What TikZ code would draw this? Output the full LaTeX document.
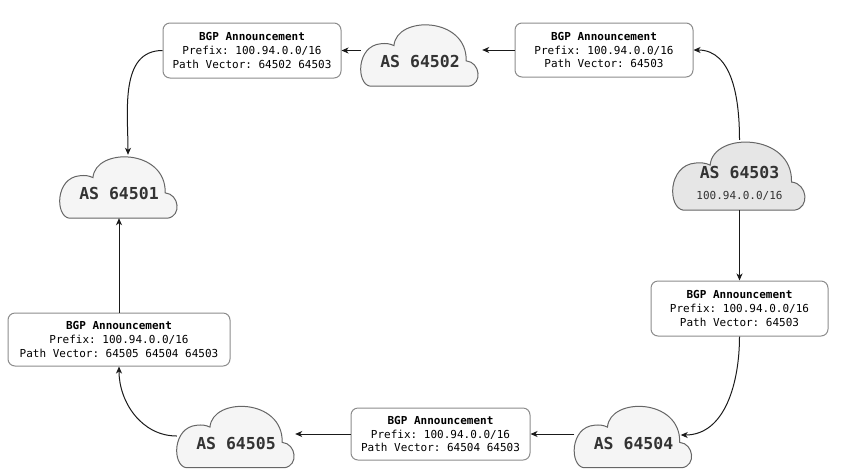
\documentclass[tikz,border=0pt]{standalone}
\usepackage{fontspec}
\setmonofont{DejaVu Sans Mono}
\usepackage{tikz}
\usetikzlibrary{arrows.meta,backgrounds,calc}
\definecolor{asfill}{HTML}{F5F5F5}
\definecolor{asfilldark}{HTML}{E6E6E6}
\definecolor{asline}{HTML}{666666}
\definecolor{astext}{HTML}{333333}
\definecolor{boxline}{HTML}{8C8C8C}
\definecolor{wireline}{HTML}{1A1A1A}

% point of a cloud, (0,0) = north west and (1,1) = south east of \p1--\p2
\newcommand\cpt[2]{({\x1+#1*(\x2-\x1)},{\y1+#2*(\y2-\y1)})}
\newcommand\cloudoutline{\cpt{0.08}{1} .. controls \cpt{-0.04}{0.97} and \cpt{-0.04}{0.36} .. \cpt{0.17}{0.33}
  .. controls \cpt{0.21}{0.32} and \cpt{0.25}{0.33} .. \cpt{0.28}{0.36}
  .. controls \cpt{0.3}{-0.12} and \cpt{0.9}{-0.1} .. \cpt{0.89}{0.6}
  .. controls \cpt{1.01}{0.62} and \cpt{1.03}{0.97} .. \cpt{0.91}{1} -- cycle}

\tikzset{
  ascloud/.style 2 args={minimum width=#1, minimum height=#2, inner sep=0pt,
    text=astext, font=\ttfamily\bfseries\fontsize{16.5}{20}\selectfont},
  onelabel/.style={text height=26pt, text depth=0pt},
  cloudline/.style={draw=asline, line width=1pt},
  asbox/.style={draw=boxline, line width=1pt, fill=white, rounded corners=7pt,
    align=center, inner sep=0pt, font=\ttfamily\fontsize{11}{13.8}\selectfont},
  announce/.style={draw=wireline, line width=1pt, -{Stealth[length=7pt,width=6pt,inset=2pt]}}
}

\begin{document}
\begin{tikzpicture}[x=1pt,y=-1pt]
\useasboundingbox (0,0) rectangle (851,475);

\node[ascloud={118pt}{63pt}, onelabel] (as1) at (119,186.5) {AS 64501};
\node[ascloud={118pt}{63pt}, onelabel] (as2) at (420,54.5) {AS 64502};
\node[ascloud={133pt}{70pt}, align=center, text height=48pt, text depth=0pt] (as3) at (739.5,175)
  {AS 64503\\[1pt]{\mdseries\fontsize{11}{13}\selectfont 100.94.0.0/16}};
\node[ascloud={118pt}{63pt}, onelabel] (as4) at (633.5,436) {AS 64504};
\node[ascloud={118pt}{63pt}, onelabel] (as5) at (236,436) {AS 64505};

\begin{pgfonlayer}{background}
\foreach \c/\f in {as1/asfill,as2/asfill,as3/asfilldark,as4/asfill,as5/asfill}
  \draw[cloudline, fill=\f] let \p1=(\c.north west), \p2=(\c.south east) in \cloudoutline;
\end{pgfonlayer}

\node[asbox, minimum width=178pt, minimum height=55pt] (ann1) at (252,50.5)
  {\textbf{BGP Announcement}\\Prefix: 100.94.0.0/16\\Path Vector: 64502 64503};
\node[asbox, minimum width=178pt, minimum height=54pt] (ann2) at (604,50)
  {\textbf{BGP Announcement}\\Prefix: 100.94.0.0/16\\Path Vector: 64503};
\node[asbox, minimum width=177pt, minimum height=55pt] (ann3) at (739.5,308.5)
  {\textbf{BGP Announcement}\\Prefix: 100.94.0.0/16\\Path Vector: 64503};
\node[asbox, minimum width=179pt, minimum height=52pt] (ann4) at (440.5,434)
  {\textbf{BGP Announcement}\\Prefix: 100.94.0.0/16\\Path Vector: 64504 64503};
\node[asbox, minimum width=222pt, minimum height=53pt] (ann5) at (119,339.5)
  {\textbf{BGP Announcement}\\Prefix: 100.94.0.0/16\\Path Vector: 64505 64504 64503};

\draw[announce] (as3.north) to[out=90,in=0] (ann2.east);
\draw[announce] (ann2.west) -- ([xshift=3pt]ann2.west -| as2.east);
\draw[announce] (as2.west |- ann1.east) -- (ann1.east);
\draw[announce] (ann1.west) to[out=180,in=90] ([xshift=9pt]as1.north);
\draw[announce] (as3.south) -- (ann3.north);
\draw[announce] (ann3.south) to[out=270,in=0] ([xshift=-12pt,yshift=1pt]as4.east);
\draw[announce] (as4.west |- ann4.east) -- (ann4.east);
\draw[announce] (ann4.west) -- (ann4.west -| as5.east);
\draw[announce] (as5.west) to[out=180,in=270] (ann5.south);
\draw[announce] (ann5.north) -- (as1.south);
\end{tikzpicture}
\end{document}
